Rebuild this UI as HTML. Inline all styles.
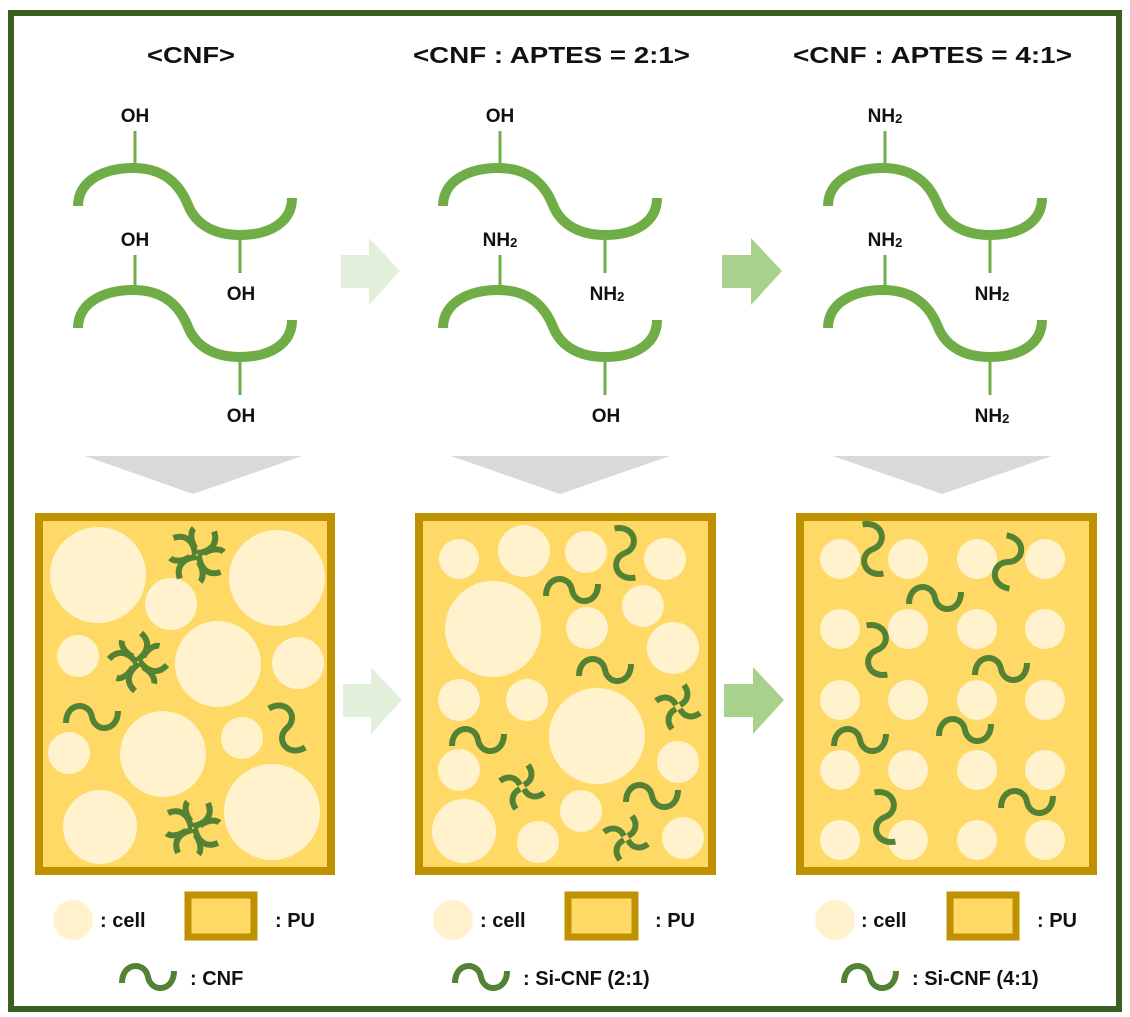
<!DOCTYPE html>
<html><head><meta charset="utf-8"><style>
html,body{margin:0;padding:0;background:#fff}
svg{display:block}
text{font-family:"Liberation Sans","DejaVu Sans",sans-serif;font-weight:bold;fill:#111}
</style></head><body>
<svg width="1130" height="1017" viewBox="0 0 1130 1017" xmlns="http://www.w3.org/2000/svg">
<defs>
<path id="chain" d="M78,206 C78,180 105,168 133,168 C165,168 180,185 188,205 C196,225 215,235 240,235 C270,235 292,222 292,198" fill="none" stroke="#70ad47" stroke-width="10"/>
<path id="sq" d="M-26,6 C-26,-15 -3,-16 0,0 C3,16 26,15 26,-6" fill="none" stroke="#548235" stroke-width="6"/>
<g id="pw" fill="none" stroke="#548235" stroke-width="6">
<path d="M2,-2 C10,-6 12,-14 6,-22"/>
<path d="M2,-2 C10,-6 12,-14 6,-22" transform="rotate(90)"/>
<path d="M2,-2 C10,-6 12,-14 6,-22" transform="rotate(180)"/>
<path d="M2,-2 C10,-6 12,-14 6,-22" transform="rotate(270)"/>
</g>
<g id="pwb" fill="none" stroke="#548235" stroke-width="6">
<path d="M0,-2 C12,-8 16,-18 8,-28"/>
<path d="M6,-4 C12,-12 20,-14 24,-12"/>
<path d="M0,-2 C12,-8 16,-18 8,-28" transform="rotate(90)"/>
<path d="M6,-4 C12,-12 20,-14 24,-12" transform="rotate(90)"/>
<path d="M0,-2 C12,-8 16,-18 8,-28" transform="rotate(180)"/>
<path d="M6,-4 C12,-12 20,-14 24,-12" transform="rotate(180)"/>
<path d="M0,-2 C12,-8 16,-18 8,-28" transform="rotate(270)"/>
<path d="M6,-4 C12,-12 20,-14 24,-12" transform="rotate(270)"/>
</g>
</defs>
<rect x="11" y="13" width="1108" height="996" fill="#fff" stroke="#3d5e22" stroke-width="6"/>

<!-- titles -->
<text x="147" y="63" font-size="23" textLength="88" lengthAdjust="spacingAndGlyphs">&lt;CNF&gt;</text>
<text x="413" y="63" font-size="23" textLength="277" lengthAdjust="spacingAndGlyphs">&lt;CNF : APTES = 2:1&gt;</text>
<text x="793" y="63" font-size="23" textLength="279" lengthAdjust="spacingAndGlyphs">&lt;CNF : APTES = 4:1&gt;</text>

<!-- chains -->
<g id="ch1">
<use href="#chain"/><use href="#chain" transform="translate(0,122)"/>
<g stroke="#70ad47" stroke-width="3">
<line x1="135" y1="168" x2="135" y2="131"/><line x1="240" y1="235" x2="240" y2="273"/>
<line x1="135" y1="290" x2="135" y2="255"/><line x1="240" y1="357" x2="240" y2="395"/>
</g></g>
<use href="#ch1" transform="translate(365,0)"/>
<use href="#ch1" transform="translate(750,0)"/>
<g font-size="19" text-anchor="middle">
<text x="135" y="122">OH</text><text x="135" y="246">OH</text><text x="241" y="300">OH</text><text x="241" y="422">OH</text>
<text x="500" y="122">OH</text><text x="500" y="246">NH<tspan font-size="13" dy="1">2</tspan></text><text x="607" y="300">NH<tspan font-size="13" dy="1">2</tspan></text><text x="606" y="422">OH</text>
<text x="885" y="122">NH<tspan font-size="13" dy="1">2</tspan></text><text x="885" y="246">NH<tspan font-size="13" dy="1">2</tspan></text><text x="992" y="300">NH<tspan font-size="13" dy="1">2</tspan></text><text x="992" y="422">NH<tspan font-size="13" dy="1">2</tspan></text>
</g>

<!-- arrows -->
<path d="M341,255 H369 V238 L400,271 L369,305 V288 H341 Z" fill="#e2efda"/>
<path d="M722,255 H751 V238 L782,271 L751,305 V288 H722 Z" fill="#a9d18e"/>
<path d="M343,684 H371 V667 L402,700 L371,734 V717 H343 Z" fill="#e2efda"/>
<path d="M724,684 H753 V667 L784,700 L753,734 V717 H724 Z" fill="#a9d18e"/>

<!-- triangles -->
<g fill="#d9d9d9">
<path d="M85,456 H302 L193,494 Z"/><path d="M451,456 H670 L560,494 Z"/><path d="M833,456 H1052 L942,494 Z"/>
</g>

<!-- boxes -->
<g fill="#ffd966" stroke="#bf9000" stroke-width="8">
<rect x="39" y="517" width="292" height="354"/>
<rect x="419" y="517" width="293" height="354"/>
<rect x="800" y="517" width="293" height="354"/>
</g>
<g fill="#fff2cc">
<circle cx="98" cy="575" r="48"/><circle cx="171" cy="604" r="26"/><circle cx="277" cy="578" r="48"/>
<circle cx="78" cy="656" r="21"/><circle cx="218" cy="664" r="43"/><circle cx="298" cy="663" r="26"/>
<circle cx="69" cy="753" r="21"/><circle cx="163" cy="754" r="43"/><circle cx="242" cy="738" r="21"/>
<circle cx="100" cy="827" r="37"/><circle cx="272" cy="812" r="48"/>

<circle cx="459" cy="559" r="20"/><circle cx="524" cy="551" r="26"/><circle cx="586" cy="552" r="21"/><circle cx="665" cy="559" r="21"/>
<circle cx="493" cy="629" r="48"/><circle cx="643" cy="606" r="21"/><circle cx="587" cy="628" r="21"/><circle cx="673" cy="648" r="26"/>
<circle cx="459" cy="700" r="21"/><circle cx="527" cy="700" r="21"/><circle cx="597" cy="736" r="48"/>
<circle cx="459" cy="770" r="21"/><circle cx="678" cy="762" r="21"/><circle cx="464" cy="831" r="32"/>
<circle cx="538" cy="842" r="21"/><circle cx="581" cy="811" r="21"/><circle cx="683" cy="838" r="21"/>
</g>
<g fill="#fff2cc">
<g id="row"><circle cx="840" cy="559" r="20"/><circle cx="908" cy="559" r="20"/><circle cx="977" cy="559" r="20"/><circle cx="1045" cy="559" r="20"/></g>
<use href="#row" transform="translate(0,70)"/><use href="#row" transform="translate(0,141)"/>
<use href="#row" transform="translate(0,211)"/><use href="#row" transform="translate(0,281)"/>
</g>

<!-- fibers panel 1 -->
<use href="#pwb" transform="translate(197,555) rotate(20)"/>
<use href="#pwb" transform="translate(138,662) rotate(-10)"/>
<use href="#pwb" transform="translate(193,828) rotate(15)"/>
<use href="#sq" transform="translate(92,717)"/>
<use href="#sq" transform="translate(287,728) rotate(60)"/>
<!-- panel 2 -->
<use href="#sq" transform="translate(572,590)"/>
<use href="#sq" transform="translate(605,670)"/>
<use href="#sq" transform="translate(478,740)"/>
<use href="#sq" transform="translate(652,796)"/>
<use href="#sq" transform="translate(625,553) rotate(80)"/>
<use href="#pw" transform="translate(678,707)"/>
<use href="#pw" transform="translate(522,787)"/>
<use href="#pw" transform="translate(626,838)"/>
<!-- panel 3 -->
<use href="#sq" transform="translate(873,549) rotate(80)"/>
<use href="#sq" transform="translate(1008,562) rotate(100)"/>
<use href="#sq" transform="translate(935,598)"/>
<use href="#sq" transform="translate(877,650) rotate(80)"/>
<use href="#sq" transform="translate(1001,669)"/>
<use href="#sq" transform="translate(860,740)"/>
<use href="#sq" transform="translate(965,730)"/>
<use href="#sq" transform="translate(885,817) rotate(-100)"/>
<use href="#sq" transform="translate(1027,802)"/>

<!-- legends -->
<g fill="#fff2cc"><circle cx="73" cy="920" r="20"/><circle cx="453" cy="920" r="20"/><circle cx="835" cy="920" r="20"/></g>
<g fill="#ffd966" stroke="#bf9000" stroke-width="7">
<rect x="188" y="895" width="66" height="42"/><rect x="568" y="895" width="67" height="42"/><rect x="950" y="895" width="66" height="42"/>
</g>
<use href="#sq" transform="translate(148,977)"/>
<use href="#sq" transform="translate(481,977)"/>
<use href="#sq" transform="translate(870,977)"/>
<g font-size="20">
<text x="100" y="927">: cell</text><text x="275" y="927">: PU</text><text x="190" y="985">: CNF</text>
<text x="480" y="927">: cell</text><text x="655" y="927">: PU</text><text x="523" y="985">: Si-CNF (2:1)</text>
<text x="861" y="927">: cell</text><text x="1037" y="927">: PU</text><text x="912" y="985">: Si-CNF (4:1)</text>
</g>
</svg>
</body></html>
